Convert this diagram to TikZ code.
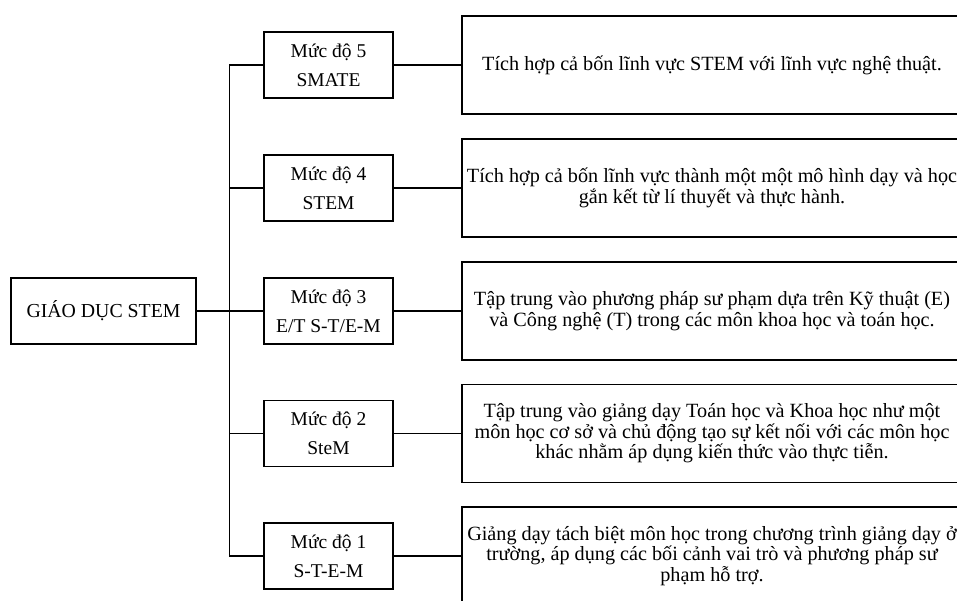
\documentclass[tikz,border=0pt]{standalone}
\usepackage{fontspec}
\setmainfont{Liberation Serif}
\begin{document}
\begin{tikzpicture}[x=1pt,y=-1pt,
  line width=1.2pt,
  rootbox/.style={draw, inner sep=0pt, minimum width=185pt, minimum height=66pt, font=\fontsize{19.8}{24}\selectfont},
  levelbox/.style={draw, inner sep=0pt, minimum width=129pt, minimum height=66pt, align=center, font=\fontsize{19.5}{29}\selectfont},
  descbox/.style={draw, inner sep=0pt, minimum width=500pt, minimum height=98pt, align=center, font=\fontsize{20.2}{20.5}\selectfont}]
\useasboundingbox (0,0) rectangle (957,601);
\node[rootbox] (root) at (103.5,311) {GIÁO DỤC STEM};
\node[levelbox] (L5) at (328.5,65) {Mức độ 5\\SMATE};
\node[levelbox] (L4) at (328.5,188) {Mức độ 4\\STEM};
\node[levelbox] (L3) at (328.5,311) {Mức độ 3\\E/T S-T/E-M};
\node[levelbox] (L2) at (328.5,433.5) {Mức độ 2\\SteM};
\node[levelbox] (L1) at (328.5,556) {Mức độ 1\\S-T-E-M};
\node[descbox] (D5) at (712,65) {Tích hợp cả bốn lĩnh vực STEM với lĩnh vực nghệ thuật.};
\node[descbox] (D4) at (712,188) {Tích hợp cả bốn lĩnh vực thành một một mô hình dạy và học\\gắn kết từ lí thuyết và thực hành.};
\node[descbox] (D3) at (712,311) {Tập trung vào phương pháp sư phạm dựa trên Kỹ thuật (E)\\và Công nghệ (T) trong các môn khoa học và toán học.};
\node[descbox] (D2) at (712,433.5) {Tập trung vào giảng dạy Toán học và Khoa học như một\\môn học cơ sở và chủ động tạo sự kết nối với các môn học\\khác nhằm áp dụng kiến thức vào thực tiễn.};
\node[descbox] (D1) at (712,556) {Giảng dạy tách biệt môn học trong chương trình giảng dạy ở\\trường, áp dụng các bối cảnh vai trò và phương pháp sư\\phạm hỗ trợ.};
\draw (root.east) -- ++(34,0) coordinate (bus);
\draw (L5.west) -- ++(-34,0) |- (L1.west);
\draw (L4.west) -- ++(-34,0);
\draw (L3.west) -- (bus);
\draw (L2.west) -- ++(-34,0);
\foreach \k in {1,...,5} {\draw (L\k.east) -- (D\k.west);}
\end{tikzpicture}
\end{document}
